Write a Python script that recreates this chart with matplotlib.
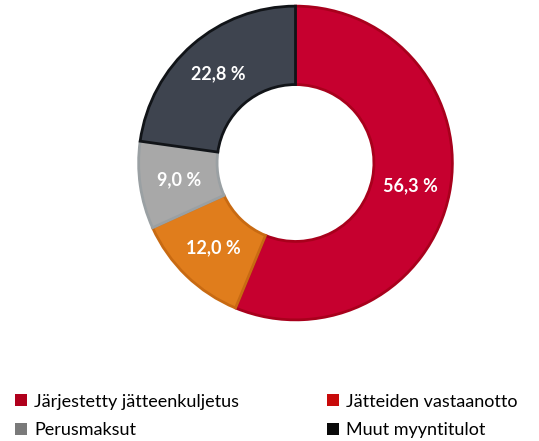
import matplotlib

matplotlib.use("Agg")

import matplotlib.pyplot as plt
import numpy as np
from matplotlib.patches import Patch

# slice data, clockwise from 12 o'clock
slice_names = ["Järjestetty jätteenkuljetus", "Jätteiden vastaanotto", "Perusmaksut", "Muut myyntitulot"]
slice_values = [56.3, 12.0, 9.0, 22.8]
slice_labels = ["56,3 %", "12,0 %", "9,0 %", "22,8 %"]
slice_colors = ["#c6002f", "#e07d1c", "#a8a8a8", "#3e444f"]
edge_colors = ["#a8001c", "#c86a12", "#9aa0a3", "#111418"]
legend_colors = ["#b0001c", "#c80a0a", "#7a7a7a", "#0a0a0a"]

plt.rcParams["font.family"] = ["Lato", "DejaVu Sans"]

fig = plt.figure(figsize=(5.39, 4.41), dpi=100)
ax = fig.add_axes([135.5 / 539, (441 - 323) / 441, 320 / 539, 320 / 441])

wedges, texts = ax.pie(
    slice_values,
    colors=slice_colors,
    startangle=90,
    counterclock=False,
    radius=1.0,
    wedgeprops=dict(width=0.5, linewidth=2.0),
)
for w, ec in zip(wedges, edge_colors):
    w.set_edgecolor(ec)

# labels at the middle of the ring
cum = np.cumsum([0] + slice_values)
total = sum(slice_values)
for i, lab in enumerate(slice_labels):
    mid = 90 - 360 * (cum[i] + cum[i + 1]) / 2 / total
    r = 0.75
    ax.text(r * np.cos(np.radians(mid)), r * np.sin(np.radians(mid)), lab,
            ha="center", va="center", color="white", fontsize=13, fontweight="bold")
ax.set_xlim(-1.02, 1.02)
ax.set_ylim(-1.02, 1.02)

# legend: row-wise order with ncol=2 fills column first
order = [0, 2, 1, 3]
handles = [Patch(facecolor=legend_colors[i], edgecolor="none") for i in order]
labels = [slice_names[i] for i in order]
fig.legend(handles, labels, ncol=2, loc="upper left", bbox_to_anchor=(0.015, 0.124),
           borderaxespad=0, frameon=False, fontsize=13, handlelength=0.65, handleheight=0.65,
           handletextpad=0.4, columnspacing=4.85, labelspacing=0.7)

fig.savefig("out.png", dpi=100)
plt.close(fig)
